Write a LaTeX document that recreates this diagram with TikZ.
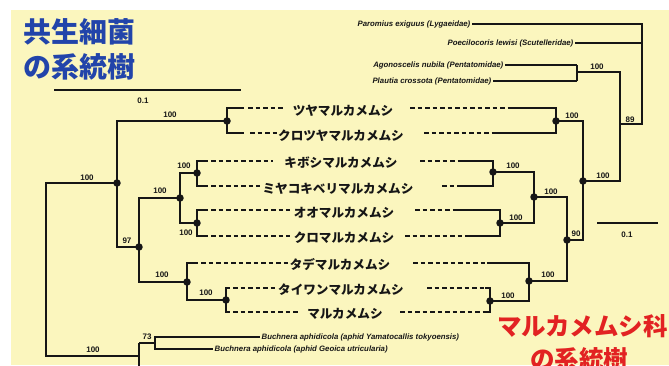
\documentclass[tikz,border=0pt]{standalone}
\usepackage{fontspec}
\setmainfont{Liberation Sans}
\newfontfamily\jp{Noto Sans CJK JP}
\definecolor{bg}{RGB}{251,246,190}
\definecolor{ink}{RGB}{22,22,22}
\definecolor{tblue}{RGB}{34,68,170}
\definecolor{tred}{RGB}{226,34,34}
\tikzset{
  br/.style={line width=1.9pt, draw=ink, line cap=rect},
  thin/.style={line width=1.5pt, draw=ink},
  dsh/.style={line width=1.5pt, draw=ink, dash pattern=on 4.5pt off 3pt},
  dot/.style={circle, fill=ink, inner sep=0pt, minimum size=7.5pt},
  bs/.style={font=\fontsize{8}{8}\selectfont\bfseries, inner sep=0pt, text=ink},
  tip/.style={font=\jp\bfseries\fontsize{12.6}{13}\selectfont, inner sep=0pt, text=ink},
  sp/.style={font=\fontsize{7.8}{8}\selectfont\bfseries\itshape, inner sep=1.5pt, text=ink},
  ttl/.style={font=\jp\bfseries\fontsize{28}{30}\selectfont, inner sep=0pt, anchor=west, text=tblue},
  rttl/.style={font=\jp\bfseries\fontsize{24.5}{28}\selectfont, inner sep=0pt, anchor=west, text=tred},
}
\begin{document}
\begin{tikzpicture}[x=1pt,y=-1pt]
\useasboundingbox (0,0) rectangle (669,365);
\fill[white] (0,0) rectangle (669,365);
\fill[bg] (11,10) rectangle (669,365);

% titles
\node[ttl] (tA) at (23,32) {共生細菌};
\node[ttl] (tB) at (23,67) {の系統樹};
\node[rttl] (rA) at (497,326) {マルカメムシ科};
\node[rttl] (rB) at (530,359) {の系統樹};

% scale bars
\coordinate (sb1) at (55,90); \coordinate (sb2) at (240,90);
\draw[br] (sb1) -- (sb2);
\node[bs] (sbl) at (143,101) {0.1};
\coordinate (sc1) at (598,223); \coordinate (sc2) at (657,223);
\draw[br] (sc1) -- (sc2);
\node[bs] (scl) at (627,235) {0.1};

% tip rows
\foreach \i/\y/\sl/\ds/\de/\rs/\re in {
1/108/243/248/285/410/513,
2/133/243/250/277/424/495,
3/161/207/211/273/420/463,
4/186/207/211/260/442/463,
5/210/207/211/290/415/457,
6/236/207/211/290/405/470,
7/263/197/201/290/413/488,
8/288/229/233/275/427/486,
9/312/229/233/300/400/486}{
  \coordinate (sL\i) at (\sl,\y);
  \coordinate (dLa\i) at (\ds,\y);
  \coordinate (dLb\i) at (\de,\y);
  \coordinate (dRa\i) at (\rs,\y);
  \coordinate (sR\i) at (\re,\y);
  \draw[dsh] (dLa\i) -- (dLb\i);
  \draw[dsh] (dRa\i) -- (sR\i);
}

\node[tip] (t1) at (343,111) {ツヤマルカメムシ};
\node[tip] (t2) at (341,136) {クロツヤマルカメムシ};
\node[tip] (t3) at (341,163) {キボシマルカメムシ};
\node[tip] (t4) at (338,189) {ミヤコキベリマルカメムシ};
\node[tip] (t5) at (344,213) {オオマルカメムシ};
\node[tip] (t6) at (344,238) {クロマルカメムシ};
\node[tip] (t7) at (340,265) {タデマルカメムシ};
\node[tip] (t8) at (341,290) {タイワンマルカメムシ};
\node[tip] (t9) at (345,314) {マルカメムシ};

% left tree nodes
\coordinate (n1) at (117,183);
\coordinate (n2) at (227,121);
\coordinate (n3) at (139,247);
\coordinate (n4) at (180,198);
\coordinate (n5) at (197,173);
\coordinate (n6) at (197,223);
\coordinate (n7) at (187,282);
\coordinate (n8) at (226,300);
\coordinate (rt) at (46,183);
\coordinate (rb) at (46,356);
\coordinate (bq) at (139,356);
\coordinate (b73) at (139,343);
\coordinate (bb) at (139,370);
\coordinate (k73) at (155,343);
\coordinate (u1) at (260,337);
\coordinate (u2) at (213,349);

\draw[br] (n1) -- (rt) -- (rb) -- (bq);
\draw[br] (n1) |- (n2);
\draw[br] (n1) |- (n3);
\draw[br] (n2) |- (sL1);
\draw[br] (n2) |- (sL2);
\draw[br] (n3) |- (n4);
\draw[br] (n3) |- (n7);
\draw[br] (n4) |- (n5);
\draw[br] (n4) |- (n6);
\draw[br] (n5) |- (sL3);
\draw[br] (n5) |- (sL4);
\draw[br] (n6) |- (sL5);
\draw[br] (n6) |- (sL6);
\draw[br] (n7) |- (sL7);
\draw[br] (n7) |- (n8);
\draw[br] (n8) |- (sL8);
\draw[br] (n8) |- (sL9);
\draw[thin] (b73) -- (bb);
\draw[thin] (b73) -- (k73);
\draw[thin] (k73) |- (u1);
\draw[thin] (k73) |- (u2);
\node[sp, anchor=west] (bu1) at (u1) {Buchnera aphidicola (aphid Yamatocallis tokyoensis)};
\node[sp, anchor=west] (bu2) at (u2) {Buchnera aphidicola (aphid Geoica utricularia)};

\foreach \c in {n1,n2,n3,n4,n5,n6,n7,n8} \node[dot] (d\c) at (\c) {};

% right tree nodes
\coordinate (m1) at (556,121);
\coordinate (m2) at (583,181);
\coordinate (m3) at (567,240);
\coordinate (m4) at (534,197);
\coordinate (m5) at (529,281);
\coordinate (m6) at (493,172);
\coordinate (m7) at (500,223);
\coordinate (m8) at (490,301);
\coordinate (q) at (620,181);
\coordinate (qt) at (620,72);
\coordinate (q89) at (620,124);
\coordinate (ag) at (577,72);
\coordinate (agt) at (577,65);
\coordinate (agb) at (577,81);
\coordinate (pa) at (642,124);
\coordinate (pt) at (642,24);
\coordinate (pm) at (642,43);
\coordinate (e1) at (472,24);
\coordinate (e2) at (575,43);
\coordinate (e3) at (505,65);
\coordinate (e4) at (493,81);

\draw[br] (m2) |- (m1);
\draw[br] (m2) |- (m3);
\draw[br] (m1) |- (sR1);
\draw[br] (m1) |- (sR2);
\draw[br] (m3) |- (m4);
\draw[br] (m3) |- (m5);
\draw[br] (m4) |- (m6);
\draw[br] (m4) |- (m7);
\draw[br] (m6) |- (sR3);
\draw[br] (m6) |- (sR4);
\draw[br] (m7) |- (sR5);
\draw[br] (m7) |- (sR6);
\draw[br] (m5) |- (sR7);
\draw[br] (m5) |- (m8);
\draw[br] (m8) |- (sR8);
\draw[br] (m8) |- (sR9);
\draw[thin] (m2) -- (q) -- (qt) -- (ag);
\draw[thin] (agt) -- (agb);
\draw[thin] (agt) -- (e3);
\draw[thin] (agb) -- (e4);
\draw[thin] (q89) -- (pa) -- (pt) -- (e1);
\draw[thin] (pm) -- (e2);
\node[sp, anchor=east] (s1) at (e1) {Paromius exiguus (Lygaeidae)};
\node[sp, anchor=east] (s2) at (e2) {Poecilocoris lewisi (Scutelleridae)};
\node[sp, anchor=east] (s3) at (e3) {Agonoscelis nubila (Pentatomidae)};
\node[sp, anchor=east] (s4) at (e4) {Plautia crossota (Pentatomidae)};

\foreach \c in {m1,m2,m3,m4,m5,m6,m7,m8} \node[dot] (d\c) at (\c) {};

% support values left
\node[bs] (l1) at (87,178) {100};
\node[bs] (l2) at (170,115) {100};
\node[bs] (l3) at (127,241) {97};
\node[bs] (l4) at (160,191) {100};
\node[bs] (l5) at (184,166) {100};
\node[bs] (l6) at (186,233) {100};
\node[bs] (l7) at (162,275) {100};
\node[bs] (l8) at (206,293) {100};
\node[bs] (l9) at (93,350) {100};
\node[bs] (l10) at (147,337) {73};
% support values right
\node[bs] (r1) at (572,116) {100};
\node[bs] (r2) at (603,176) {100};
\node[bs] (r3) at (576,234) {90};
\node[bs] (r4) at (551,192) {100};
\node[bs] (r5) at (513,166) {100};
\node[bs] (r6) at (516,218) {100};
\node[bs] (r7) at (548,275) {100};
\node[bs] (r8) at (508,296) {100};
\node[bs] (r9) at (597,67) {100};
\node[bs] (r10) at (630,120) {89};
\end{tikzpicture}
\end{document}
